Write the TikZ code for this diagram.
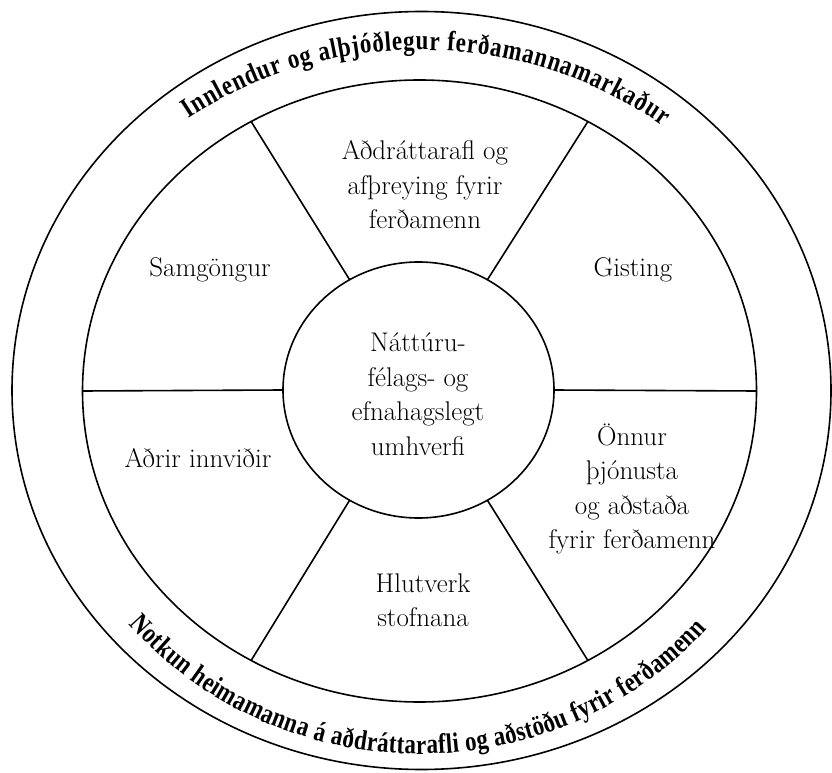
\documentclass[tikz,border=0pt]{standalone}
\usepackage{fontspec}
\newfontfamily\arcfont{Liberation Serif}[FakeStretch=0.82]
\usetikzlibrary{shapes.geometric,decorations.text,calc}
\begin{document}
\begin{tikzpicture}[x=1pt,y=1pt,
  disc/.style={ellipse, draw, line width=1.6pt, inner sep=0pt, outer sep=0pt},
  spoke/.style={line width=1.6pt},
  sector/.style={align=center, inner sep=0pt, font=\fontsize{27}{34.5}\selectfont},
  arctext/.style={decorate, decoration={text along path, text align={fit to path}}}]
\useasboundingbox (0,0) rectangle (832,772);
\coordinate (c) at (420,382);

% three concentric rings
\node[disc, minimum width=819pt, minimum height=758pt] (outer) at (421.5,381.5) {};
\node[disc, minimum width=674pt, minimum height=622pt] (ring) at (419.5,381) {};
\node[disc, minimum width=271pt, minimum height=256pt] (hub) at (418.5,382) {};

% six spokes between the hub and the middle ring
\foreach \a in {0,58,122,180,238,302}
  \draw[spoke] (hub.\a) -- (ring.\a);

% sector labels
\node[sector] (attr)  at (425,587) {Aðdráttarafl og\\afþreying fyrir\\ferðamenn};
\node[sector] (samg)  at (210,502) {Samgöngur};
\node[sector] (gist)  at (633,502) {Gisting};
\node[sector] (umhv)  at (418,378) {Náttúru-\\félags- og\\efnahagslegt\\umhverfi};
\node[sector] (innv)  at (198,314) {Aðrir innviðir};
\node[sector] (thjon) at (632,283) {Önnur\\þjónusta\\og aðstaða\\fyrir ferðamenn};
\node[sector] (hlut)  at (423,172) {Hlutverk\\stofnana};

% curved titles in the outer band
\path[arctext, decoration={text={|\arcfont\bfseries\fontsize{28}{28}\selectfont|Innlendur og alþjóðlegur ferðamannamarkaður}}]
  ($(c)+(127:385 and 340)$) arc[start angle=127, end angle=51, x radius=385, y radius=340];
\path[arctext, decoration={text={|\arcfont\bfseries\fontsize{28}{28}\selectfont|Notkun heimamanna á aðdráttarafli og aðstöðu fyrir ferðamenn}}]
  ($(c)+(220:380 and 364)$) arc[start angle=220, end angle=319, x radius=380, y radius=364];
\end{tikzpicture}
\end{document}
